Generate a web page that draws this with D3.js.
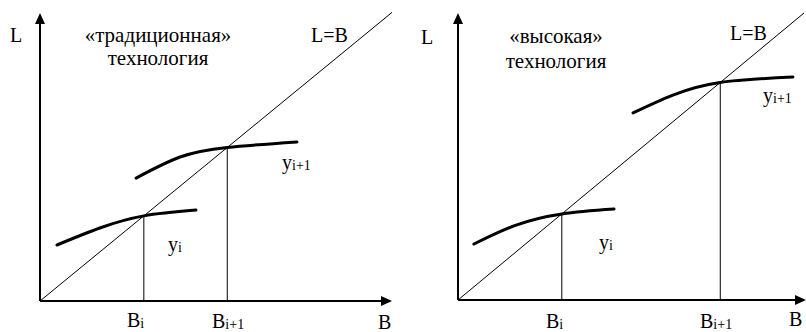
<!DOCTYPE html>
<html>
<head>
<meta charset="utf-8">
<script src="https://d3js.org/d3.v7.min.js"></script>
<style>
  text { font-family: "Times New Roman", Tinos, "Liberation Serif", serif; }
</style>
</head>
<body style="margin:0">
<script>
// data, in units where the diagonal is L = B
const tradTitle = ["«традиционная»", "технология"];
const tradB = [2.95, 5.32];                 // B_i, B_i+1
const tradCurveI = [[0.48, 1.94], [1.70, 2.53], [2.95, 2.95], [4.43, 3.15]];
const tradCurveI1 = [[2.73, 4.26], [3.98, 4.99], [5.32, 5.32], [7.30, 5.51]];

const highTitle = ["«высокая»", "технология"];
const highB = [3.0, 7.58];
const highCurveI = [[0.46, 1.95], [1.68, 2.61], [3.0, 3.0], [4.51, 3.17]];
const highCurveI1 = [[5.06, 6.52], [6.21, 7.14], [7.58, 7.58], [9.68, 7.77]];

const axisMax = 10;

const svg = d3.select("body").append("svg")
    .attr("width", 806)
    .attr("height", 332);

// layout for each panel (pixels)
const panels = [
  { title: tradTitle, B: tradB, curves: [tradCurveI, tradCurveI1],
    xr: [40, 392], yr: [301, 12.4], yTop: 13, xEnd: 392,
    titleX: 158, titleY: [42, 65],
    L: [10, 42], LB: [311, 42], Bax: [378, 329],
    Blab: [[127, 327], [212, 328]],
    yLab: [[168, 251], [282, 169]] },
  { title: highTitle, B: highB, curves: [highCurveI, highCurveI1],
    xr: [458, 804], yr: [300, 13], yTop: 13, xEnd: 806,
    titleX: 556, titleY: [43, 68],
    L: [421, 44], LB: [730, 40], Bax: [789, 326],
    Blab: [[546, 328], [700, 328]],
    yLab: [[599, 249], [763, 102]] }
];

function label(pos, str, size) {
  return svg.append("text")
    .attr("x", pos[0]).attr("y", pos[1])
    .style("font", size + "px 'Times New Roman', Tinos, 'Liberation Serif', serif")
    .text(str);
}

panels.forEach(function(p) {
  var x = d3.scaleLinear().domain([0, axisMax]).range(p.xr);
  var y = d3.scaleLinear().domain([0, axisMax]).range(p.yr);

  //axes
  svg.append("line")
    .attr("x1", x(0)).attr("y1", y(0))
    .attr("x2", x(0)).attr("y2", p.yTop + 8)
    .attr("stroke", "#000").attr("stroke-width", 2);
  svg.append("path")
    .attr("d", "M" + x(0) + "," + p.yTop + "l-5,11h10z")
    .attr("fill", "#000");
  svg.append("line")
    .attr("x1", x(0)).attr("y1", y(0))
    .attr("x2", p.xEnd - 8).attr("y2", y(0))
    .attr("stroke", "#000").attr("stroke-width", 2);
  svg.append("path")
    .attr("d", "M" + p.xEnd + "," + y(0) + "l-11,-5v10z")
    .attr("fill", "#000");

  //diagonal L = B
  svg.append("line")
    .attr("x1", x(0)).attr("y1", y(0))
    .attr("x2", x(axisMax)).attr("y2", y(axisMax))
    .attr("stroke", "#000").attr("stroke-width", 1);

  //verticals at B_i and B_i+1
  p.B.forEach(function(b) {
    svg.append("line")
      .attr("x1", x(b)).attr("y1", y(0))
      .attr("x2", x(b)).attr("y2", y(b))
      .attr("stroke", "#000").attr("stroke-width", 1);
  });

  //curves y_i, y_i+1
  var line = d3.line()
    .x(d => x(d[0]))
    .y(d => y(d[1]))
    .curve(d3.curveNatural);
  p.curves.forEach(function(c) {
    svg.append("path")
      .attr("d", line(c))
      .attr("fill", "none")
      .attr("stroke", "#000")
      .attr("stroke-width", 3)
      .attr("stroke-linecap", "round");
  });

  //title
  p.title.forEach(function(t, i) {
    label([p.titleX, p.titleY[i]], t, 21).attr("text-anchor", "middle");
  });

  //plain labels
  label(p.L, "L", 20);
  label(p.LB, "L=B", 20);
  label(p.Bax, "B", 20);

  //labels with subscripts
  function subLabel(pos, main, sub) {
    var t = label(pos, "", 20);
    t.append("tspan").text(main);
    t.append("tspan").attr("dy", 1).style("font-size", "14px").text(sub);
  }
  subLabel(p.Blab[0], "B", "i");
  subLabel(p.Blab[1], "B", "i+1");
  subLabel(p.yLab[0], "y", "i");
  subLabel(p.yLab[1], "y", "i+1");
});
</script>
</body>
</html>
